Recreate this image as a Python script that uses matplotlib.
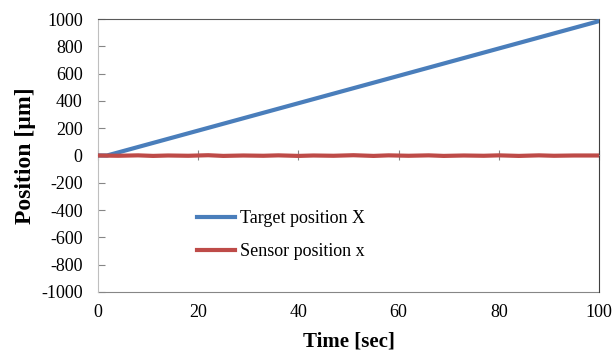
import numpy as np
import matplotlib.pyplot as plt

# data
target_t = [0, 1.8, 100]
target_x = [0, 0, 985]

sensor_t = [0, 4, 8, 11, 14, 18, 22, 25, 29, 33, 36, 40, 43, 47, 51, 55, 58, 62,
            66, 69, 73, 77, 80, 84, 88, 91, 95, 100]
sensor_x = [0, -2, 1, -3, 0, -2, 2, -3, 0, -2, 1, -3, 0, -2, 2, -3, 1, -2,
            1, -3, 0, -2, 1, -3, 1, -2, 0, 0]

xticks = [0, 20, 40, 60, 80, 100]
yticks = list(range(-1000, 1001, 200))

plt.rcParams['font.family'] = ['Liberation Serif', 'DejaVu Serif']
plt.rcParams['font.size'] = 13
plt.rcParams['axes.unicode_minus'] = False

fig = plt.figure(figsize=(6.14, 3.53), dpi=100)
ax = fig.add_axes([0.1596, 0.173, 0.816, 0.773])

ax.plot(target_t, target_x, color='#4a7ebb', lw=3, label='Target position X', zorder=3)
ax.plot(sensor_t, sensor_x, color='#be4b48', lw=3, label='Sensor position x', zorder=4)

ax.set_xlim(0, 100)
ax.set_ylim(-1000, 1000)
ax.set_yticks(yticks)
ax.set_xticks(xticks)

# x axis crosses at zero, labels stay at the bottom
ax.spines['bottom'].set_position(('data', 0))
ax.spines['bottom'].set_color('#868686')
ax.tick_params(axis='x', direction='inout', length=7, color='#868686', labelbottom=False)
ax.tick_params(axis='y', direction='in', length=5, color='#868686', pad=11)

ax.spines['left'].set_color('#bfbfbf')
ax.spines['top'].set_color('#595959')
ax.spines['right'].set_color('#404040')

sec = ax.secondary_xaxis(0)
sec.set_xticks(xticks)
sec.tick_params(length=0, pad=9)
sec.spines['bottom'].set_color('#868686')
sec.set_xlabel('Time [sec]', fontweight='bold', fontsize=15, labelpad=7)

ax.set_ylabel('Position [µm]', fontweight='bold', fontsize=17, labelpad=4)

ax.legend(loc='upper left', bbox_to_anchor=(0.184, 0.326), frameon=False,
          handlelength=2.1, handletextpad=0.25, labelspacing=0.9, borderaxespad=0)

fig.savefig('out.png', dpi=100)
